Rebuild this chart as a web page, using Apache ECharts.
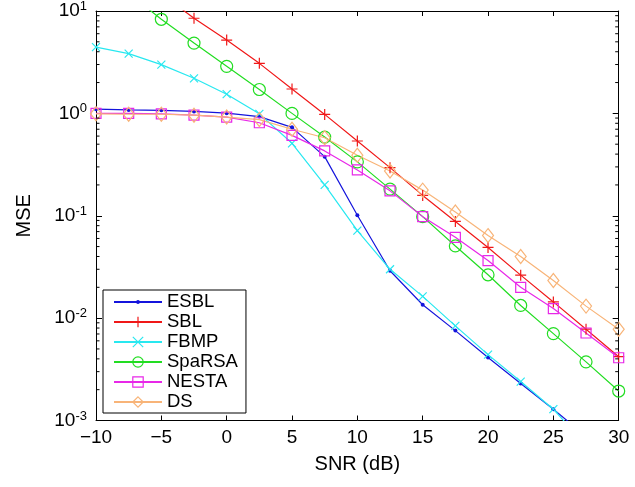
<!DOCTYPE html>
<html><head><meta charset="utf-8">
<script src="https://cdn.jsdelivr.net/npm/echarts/dist/echarts.min.js"></script>
<style>html,body{margin:0;padding:0;background:#fff}#c{width:635px;height:487px}</style>
</head><body><div id="c"></div>
<script>
// ---- data ----
const snr = [-10,-7.5,-5,-2.5,0,2.5,5,7.5,10,12.5,15,17.5,20,22.5,25,27.5,30];
const esbl   = [1.10,1.08,1.07,1.045,1.005,0.93,0.73,0.378,0.101,0.029,0.0135,0.00755,0.00412,0.0023,0.00129,0.0007,0.00038];
const sbl    = [42,25,14.7,8.5,5.2,3.08,1.73,0.977,0.537,0.295,0.158,0.088,0.049,0.0263,0.0144,0.0078,0.0042];
const fbmp   = [4.44,3.83,2.99,2.2,1.54,0.99,0.51,0.2,0.0715,0.030,0.0163,0.0084,0.0044,0.0024,0.00129,0.00057,0.00025];
const sparsa = [22,14.9,8.3,4.86,2.88,1.71,1.0,0.587,0.336,0.182,0.098,0.0507,0.0265,0.0133,0.00706,0.00374,0.00194];
const nesta  = [1.0,1.0,0.99,0.96,0.92,0.81,0.61,0.43,0.28,0.175,0.098,0.0615,0.0365,0.020,0.0124,0.00716,0.0041];
const ds     = [0.99,0.98,0.98,0.96,0.92,0.87,0.70,0.578,0.39,0.274,0.178,0.109,0.064,0.040,0.0233,0.0131,0.0078];
const seriesNames = ['ESBL','SBL','FBMP','SpaRSA','NESTA','DS'];
const xTicks = [-10,-5,0,5,10,15,20,25,30];
const yTicks = [0.001,0.01,0.1,1,10];

// ---- style ----
const FONT = '"Liberation Sans", Arial, Helvetica, sans-serif';
const COL = {ESBL:'#1414dc', SBL:'#f01818', FBMP:'#28e8f0', SpaRSA:'#22dd22', NESTA:'#e828e8', DS:'#f8b478'};
const SYM = {
  ESBL: 'path://M0,0M20,20M10,7.5A2.5,2.5,0,1,1,10,12.5A2.5,2.5,0,1,1,10,7.5Z',
  SBL: 'path://M0,5L10,5M5,0L5,10',
  FBMP: 'path://M0,0L10,10M10,0L0,10',
  SpaRSA: 'circle', NESTA: 'rect', DS: 'diamond'
};
const SIZE = {ESBL:16, SBL:11, FBMP:8, SpaRSA:12, NESTA:10, DS:[11,14]};
const VALS = {ESBL:esbl, SBL:sbl, FBMP:fbmp, SpaRSA:sparsa, NESTA:nesta, DS:ds};

const chart = echarts.init(document.getElementById('c'), null, {renderer:'canvas'});
const sup = v => {
  const e = Math.round(Math.log10(v));
  if (Math.abs(Math.log10(v) - e) > 1e-6) return '';
  return '{b|10}{e|' + (e < 0 ? '-' + (-e) : e) + '}';
};
const series = seriesNames.map(n => ({
  name: n, type: 'line', data: snr.map((x, i) => [x, VALS[n][i]]),
  symbol: SYM[n], symbolSize: SIZE[n], showAllSymbol: true, clip: true,
  lineStyle: {color: COL[n], width: 1.2},
  itemStyle: n === 'ESBL' ? {color: COL[n], borderColor: COL[n], borderWidth: 0}
                         : {color: 'rgba(0,0,0,0)', borderColor: COL[n], borderWidth: 1.2},
  emphasis: {disabled: true}, animation: false
}));
const axLine = {show: true, onZero: false, lineStyle: {color: '#000', width: 1}};
chart.setOption({
  animation: false,
  backgroundColor: '#fff',
  grid: {left: 96, right: 16.3, top: 9.5, bottom: 66.5, containLabel: false},
  xAxis: [{
    type: 'value', min: -10, max: 30, interval: 5, position: 'bottom',
    axisLine: axLine, splitLine: {show: false},
    axisTick: {inside: true, length: 5, lineStyle: {color: '#000'}},
    axisLabel: {color: '#000', fontSize: 19, fontFamily: FONT, margin: 8,
      formatter: v => v < 0 ? '\u2212' + Math.abs(v) : String(v)},
    name: 'SNR (dB)', nameLocation: 'middle', nameGap: 34,
    nameTextStyle: {color: '#000', fontSize: 20, fontFamily: FONT}
  }, {
    type: 'value', min: -10, max: 30, interval: 5, position: 'top',
    axisLine: axLine, splitLine: {show: false},
    axisTick: {inside: true, length: 5, lineStyle: {color: '#000'}},
    axisLabel: {show: false}
  }],
  yAxis: [{
    type: 'log', logBase: 10, min: 0.001, max: 10, position: 'left',
    axisLine: axLine, splitLine: {show: false},
    axisTick: {inside: true, length: 6, lineStyle: {color: '#000'}},
    axisLabel: {color: '#000', fontFamily: FONT, margin: 9, formatter: sup,
      rich: {b: {fontSize: 19, fontFamily: FONT, color: '#000', lineHeight: 22},
             e: {fontSize: 13, fontFamily: FONT, color: '#000', verticalAlign: 'top', lineHeight: 14}}},
    name: 'MSE', nameLocation: 'middle', nameGap: 62, nameRotate: 90,
    nameTextStyle: {color: '#000', fontSize: 20, fontFamily: FONT}
  }, {
    type: 'log', logBase: 10, min: 0.001, max: 10, position: 'right',
    axisLine: axLine, splitLine: {show: false},
    axisTick: {inside: true, length: 6, lineStyle: {color: '#000'}},
    axisLabel: {show: false}
  }],
  legend: {
    orient: 'vertical', left: 103, top: 290, data: seriesNames,
    backgroundColor: '#fff', borderColor: '#000', borderWidth: 1, borderRadius: 0,
    padding: [2, 8, 1, 10], itemGap: 0, itemWidth: 48, itemHeight: 13,
    itemStyle: {borderWidth: 1.2},
    textStyle: {color: '#000', fontSize: 18.5, fontFamily: FONT, lineHeight: 20},
    selectedMode: false
  },
  series: series
});

// minor log ticks on left and right axes
const gx0 = chart.convertToPixel({xAxisIndex: 0}, -10);
const gx1 = chart.convertToPixel({xAxisIndex: 0}, 30);
const g = [];
for (let d = -3; d < 1; d++) {
  for (let k = 2; k <= 9; k++) {
    const y = chart.convertToPixel({yAxisIndex: 0}, k * Math.pow(10, d));
    g.push({type: 'line', shape: {x1: gx0, y1: y, x2: gx0 + 3.5, y2: y}, style: {stroke: '#000', lineWidth: 1}, silent: true, z: 10});
    g.push({type: 'line', shape: {x1: gx1, y1: y, x2: gx1 - 3.5, y2: y}, style: {stroke: '#000', lineWidth: 1}, silent: true, z: 10});
  }
}
chart.setOption({graphic: g});
</script></body></html>
